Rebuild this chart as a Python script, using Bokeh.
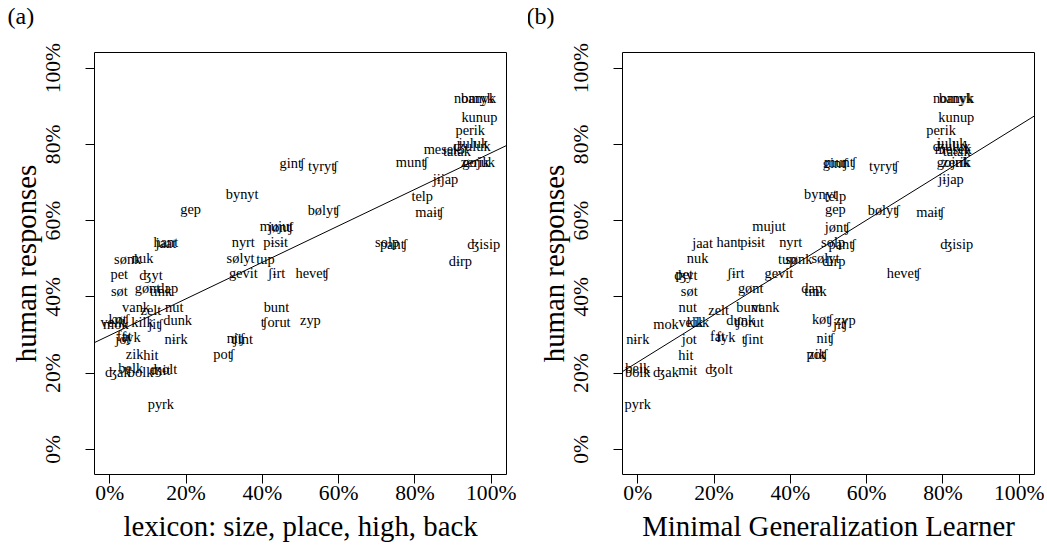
import numpy as np
from bokeh.plotting import figure
from bokeh.layouts import row
from bokeh.models import Range1d, FixedTicker, Slope, ColumnDataSource, Title
from bokeh.core.properties import value
from bokeh.embed import file_html
from bokeh.resources import INLINE

# ---- data (percent) ----
words = ["banyk", "nomyk", "kunup", "perik", "juluk", "ʤuluk", "mesek", "tatak",
         "gojuk", "zerik", "jɨjap", "ginʧ", "munʧ", "tyryʧ", "bynyt", "telp",
         "gep", "bølyʧ", "maɨʧ", "mujut", "jønʧ", "nyrt", "pɨsɨt", "hant",
         "jaat", "solp", "panʧ", "ʤisip", "nuk", "sønk", "tup", "sølyt",
         "dɨrp", "ʤyt", "pet", "ʃɨrt", "gevit", "heveʧ", "søt", "gønt",
         "dap", "tink", "nut", "vank", "zelt", "bunt", "dunk", "ʧorut",
         "zyp", "køʧ", "jiʧ", "mok", "velk", "kilk", "fat", "fyk",
         "jot", "nɨrk", "ʧint", "niʧ", "poʧ", "zik", "hit", "belk",
         "bolk", "ʤak", "mɨt", "ʤolt", "pyrk"]
human = [92.1, 92.1, 87.3, 83.9, 80.3, 79.6, 78.8, 78.3,
         75.4, 75.5, 70.9, 75.0, 75.3, 74.3, 67.0, 66.5,
         63.0, 62.8, 62.3, 58.6, 58.3, 54.5, 54.4, 54.4,
         54.0, 54.4, 53.8, 53.9, 50.2, 49.9, 49.9, 50.2,
         49.3, 45.8, 46.1, 46.2, 46.2, 46.2, 41.5, 42.4,
         42.4, 41.5, 37.4, 37.4, 36.5, 37.4, 33.8, 33.4,
         34.0, 34.1, 32.8, 32.8, 33.4, 33.4, 29.7, 29.6,
         28.9, 28.9, 28.9, 29.3, 25.1, 25.1, 24.8, 21.3,
         20.2, 20.3, 20.8, 21.0, 11.8]
lexicon = [96.7, 95.5, 96.9, 94.5, 95.3, 94.9, 87.1, 91.0,
           96.7, 95.8, 88.0, 47.8, 79.2, 55.9, 34.7, 81.9,
           21.2, 56.1, 83.8, 43.7, 44.8, 35.0, 43.5, 14.7,
           14.7, 72.7, 74.4, 98.0, 8.6, 4.7, 40.8, 34.3,
           91.9, 10.8, 2.5, 43.7, 35.0, 53.1, 2.5, 9.9,
           15.2, 13.4, 16.9, 6.9, 10.8, 43.7, 17.8, 43.5,
           52.6, 2.4, 12.0, 1.6, 0.8, 8.6, 3.8, 5.6,
           3.4, 17.4, 34.7, 33.0, 29.9, 6.5, 10.8, 5.5,
           8.1, 2.1, 13.4, 14.1, 13.4]
mgl = [83.6, 82.6, 83.5, 79.5, 82.3, 82.3, 82.7, 83.6,
       82.7, 83.6, 82.1, 51.8, 53.1, 64.5, 47.9, 51.8,
       51.8, 64.5, 76.7, 34.4, 52.3, 40.1, 30.1, 23.9,
       17.0, 51.2, 53.6, 83.6, 15.7, 42.2, 39.2, 49.2,
       51.4, 12.6, 12.2, 25.7, 37.0, 69.7, 13.5, 29.6,
       45.6, 46.6, 13.1, 33.5, 21.2, 29.2, 27.0, 29.2,
       54.4, 48.4, 53.1, 7.4, 13.9, 15.8, 20.9, 23.1,
       13.5, 0.0, 30.1, 49.2, 47.0, 47.0, 12.6, 0.0,
       0.0, 7.4, 13.1, 21.3, 0.0]
ticks = [0, 20, 40, 60, 80, 100]
tick_labels = ["0%", "20%", "40%", "60%", "80%", "100%"]
x_titles = ["lexicon: size, place, high, back", "Minimal Generalization Learner"]
panel_tags = ["(a)", "(b)"]

FONT = "Liberation Serif"


def panel(xvals, xtitle, tag, border_left, border_right, tag_offset):
    p = figure(frame_width=412, frame_height=422,
               x_range=Range1d(-4, 104), y_range=Range1d(-6.6, 104.1),
               output_backend="svg", toolbar_location=None,
               min_border_left=border_left, min_border_right=border_right,
               min_border_top=52, min_border_bottom=40)
    # panel tag: two-line title so that "(a)" sits near the top of the margin
    t = Title(text=tag + "\n\u00a0", text_font=FONT, text_font_size="24px",
              text_font_style="normal", text_line_height=0.9,
              align="left", offset=tag_offset, standoff=0,
              text_color="black")
    p.add_layout(t, "above")
    p.background_fill_color = "white"
    p.border_fill_color = "white"
    p.outline_line_color = "black"
    p.outline_line_width = 1
    p.outline_line_alpha = 1
    p.xgrid.visible = False
    p.ygrid.visible = False

    for ax in (p.xaxis[0], p.yaxis[0]):
        ax.ticker = FixedTicker(ticks=ticks)
        ax.major_label_overrides = {t: l for t, l in zip(ticks, tick_labels)}
        ax.axis_line_color = None
        ax.major_tick_line_color = "black"
        ax.major_tick_out = 9
        ax.major_tick_in = 0
        ax.minor_tick_line_color = None
        ax.major_label_text_font = FONT
        ax.major_label_text_font_size = "21.6px"
        ax.major_label_text_color = "black"
        ax.axis_label_text_font = FONT
        ax.axis_label_text_font_size = "28.8px"
        ax.axis_label_text_font_style = "normal"
        ax.axis_label_text_color = "black"
    p.xaxis.axis_label = xtitle
    p.yaxis.axis_label = "human responses"
    p.yaxis.major_label_orientation = "vertical"
    p.xaxis.major_label_standoff = -3
    p.xaxis.axis_label_standoff = 2
    p.yaxis.major_label_standoff = 20
    p.yaxis.axis_label_standoff = -3

    src = ColumnDataSource(dict(x=xvals, y=human, w=words))
    p.text(x="x", y="y", text="w", source=src,
           text_font=value(FONT), text_font_size=value("14.4px"),
           text_align="center", text_baseline="middle", text_color="black")

    m, b = np.polyfit(np.array(xvals), np.array(human), 1)
    p.add_layout(Slope(gradient=float(m), y_intercept=float(b),
                       line_color="black", line_width=1))
    return p


p1 = panel(lexicon, x_titles[0], panel_tags[0], 94, 22, -87)
p2 = panel(mgl, x_titles[1], panel_tags[1], 94, 10, -96)

layout = row(p1, p2)
layout.spacing = 0
open("out.html", "w").write(file_html(layout, INLINE))
